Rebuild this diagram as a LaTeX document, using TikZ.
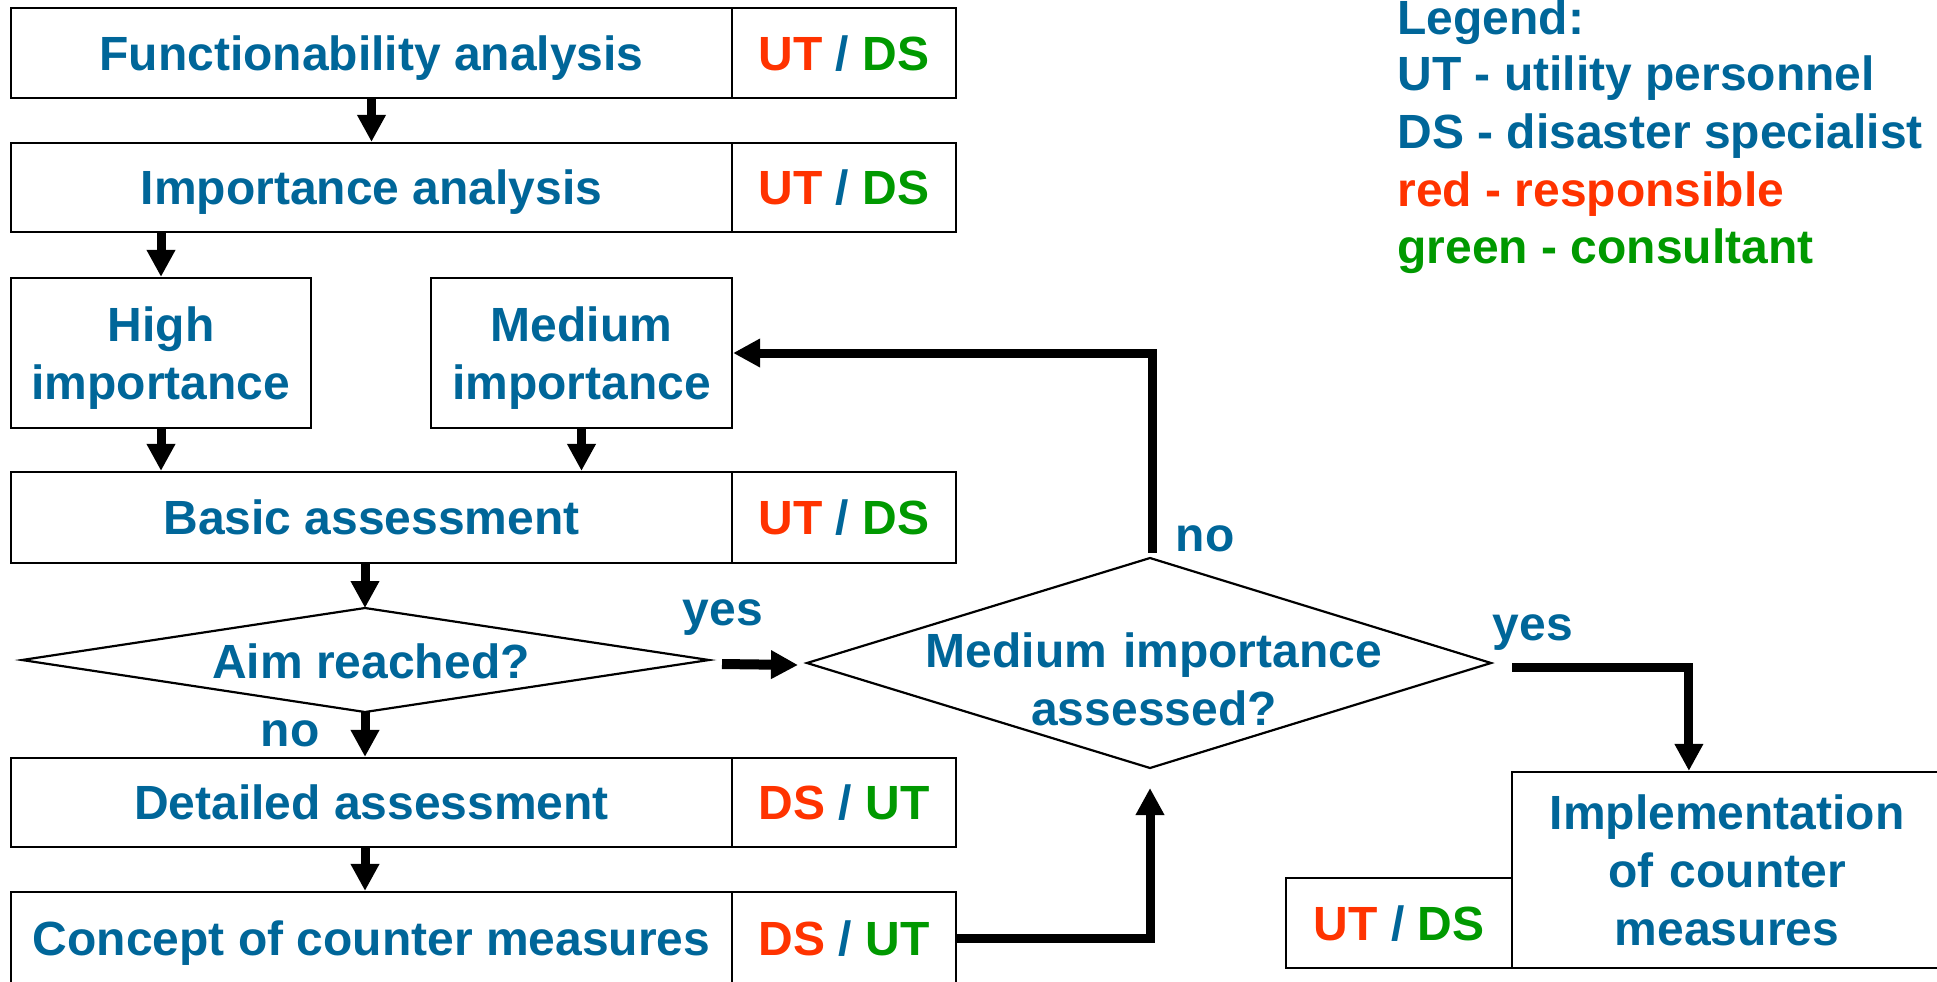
\documentclass[tikz,border=0pt]{standalone}
\usepackage{fontspec}
\setmainfont{Liberation Sans}
\usetikzlibrary{arrows.meta,calc}
\definecolor{tblue}{HTML}{006699}
\definecolor{tred}{HTML}{FF3300}
\definecolor{tgreen}{HTML}{009900}
\newcommand{\rolea}{\textcolor{tred}{UT} / \textcolor{tgreen}{DS}}
\newcommand{\roleb}{\textcolor{tred}{DS} / \textcolor{tgreen}{UT}}
\begin{document}
\begin{tikzpicture}[x=0.5pt,y=0.5pt,
  txt/.style={font=\fontsize{24}{29}\selectfont\bfseries, text=tblue, inner sep=0pt},
  mybox/.style={txt, draw=black, line width=1.1pt, rectangle, text height=17.2pt, text depth=0pt},
  multibox/.style={mybox, align=center, text width=#1},
  dline/.style={draw=black, line width=1.1pt, line join=miter},
  conn/.style={draw=black, line width=4.5pt, -{Triangle[width=13.5pt,length=13.5pt]}},
  lbl/.style={txt, anchor=base},
  leg/.style={txt, anchor=base west}
]
\useasboundingbox (0,0) rectangle (1937,-981);

% left column boxes
\node[mybox, minimum width=360.5pt, minimum height=45pt] (fa) at (371.5,-53) {Functionability analysis};
\node[mybox, minimum width=112pt, minimum height=45pt] (far) at (844,-53) {\rolea};
\node[mybox, minimum width=360.5pt, minimum height=44.5pt] (ia) at (371.5,-187.5) {Importance analysis};
\node[mybox, minimum width=112pt, minimum height=44.5pt] (iar) at (844,-187.5) {\rolea};
\node[multibox=140pt, text depth=29pt, minimum width=150pt, minimum height=75pt] (hi) at (161,-353) {High\\importance};
\node[multibox=140pt, text depth=29pt, minimum width=150.5pt, minimum height=75pt] (me) at (581.5,-353) {Medium\\importance};
\node[mybox, minimum width=360.5pt, minimum height=45.5pt] (ba) at (371.5,-517.5) {Basic assessment};
\node[mybox, minimum width=112pt, minimum height=45.5pt] (bar) at (844,-517.5) {\rolea};
\node[mybox, minimum width=360.5pt, minimum height=44.5pt] (de) at (371.5,-802.5) {Detailed assessment};
\node[mybox, minimum width=112pt, minimum height=44.5pt] (der) at (844,-802.5) {\roleb};
\node[mybox, minimum width=360.5pt, minimum height=46pt] (co) at (371.5,-938) {Concept of counter measures};
\node[mybox, minimum width=112pt, minimum height=46pt] (cor) at (844,-938) {\roleb};

% aim diamond
\coordinate (aN) at (365,-608);
\coordinate (aE) at (709,-660);
\coordinate (aS) at (365,-712);
\coordinate (aW) at (22,-660);
\draw[dline] (aN) -- (aE) -- (aS) -- (aW) -- cycle;
\node[txt, text height=17.2pt, text depth=0pt] (aimt) at (371,-661.7) {Aim reached?};

% medium importance assessed diamond
\coordinate (dN) at (1150,-558);
\coordinate (dE) at (1491,-663);
\coordinate (dS) at (1150,-768);
\coordinate (dW) at (807,-663);
\draw[dline] (dN) -- (dE) -- (dS) -- (dW) -- cycle;
\node[txt, align=center, text width=300pt, text height=17.2pt, text depth=29pt] (dt) at (1154,-679) {Medium importance\\assessed?};

% implementation
\node[multibox=200pt, text depth=58pt, minimum width=215pt, minimum height=98pt] (im) at (1727,-870) {Implementation\\of counter\\measures};
\node[mybox, minimum width=113pt, minimum height=45pt] (imr) at (1399,-923) {\rolea};

% connectors
\draw[conn] (fa.south) -- (ia.north);
\draw[conn] (hi.north |- ia.south) -- (hi.north);
\draw[conn] (hi.south) -- (hi.south |- ba.north);
\draw[conn] (me.south) -- (me.south |- ba.north);
\draw[conn] (aN |- ba.south) -- (aN);
\draw[conn] (aS) -- (aS |- de.north);
\draw[conn] (aS |- de.south) -- (aS |- co.north);
\draw[conn, line width=5pt] ([shift={(13,-4)}]aE) -- ([shift={(-9,-2)}]dW);
\draw[conn] ([shift={(2,5.5)}]dN) |- (me.east);
\draw[conn] ([shift={(21,-4)}]dE) -| ([xshift=89pt]im.north west);
\draw[conn] (cor.east) -| ([yshift=-10pt]dS);

% labels
\node[lbl] (yes1) at (723,-625) {yes};
\node[lbl] (no1) at (290,-746) {no};
\node[lbl] (no2) at (1205,-551) {no};
\node[lbl] (yes2) at (1533,-640) {yes};

% legend
\node[leg] (l1) at (1397,-34.5) {Legend:};
\node[leg] (l2) at (1397,-90.7) {UT - utility personnel};
\node[leg] (l3) at (1397,-148.3) {DS - disaster specialist};
\node[leg, text=tred] (l4) at (1397,-206) {red - responsible};
\node[leg, text=tgreen] (l5) at (1397,-263.3) {green - consultant};
\end{tikzpicture}
\end{document}
